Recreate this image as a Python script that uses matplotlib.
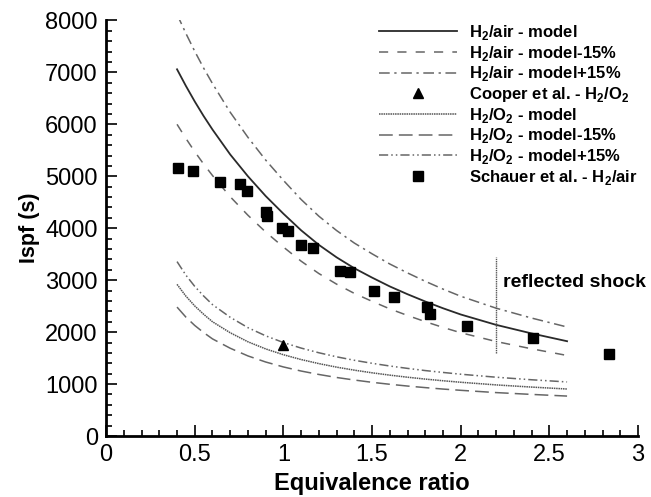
import numpy as np
import matplotlib
matplotlib.use('Agg')
import matplotlib.pyplot as plt
from matplotlib.ticker import MultipleLocator
from matplotlib.lines import Line2D

plt.rcParams['font.family'] = ['Liberation Sans', 'DejaVu Sans']
plt.rcParams['mathtext.fontset'] = 'custom'
plt.rcParams['mathtext.rm'] = 'Liberation Sans'
plt.rcParams['mathtext.bf'] = 'Liberation Sans:bold'

# model curves (equivalence ratio grid)
phi_model = [0.4, 0.45, 0.5, 0.55, 0.6, 0.7, 0.8, 0.9, 1.0, 1.1, 1.2, 1.3,
             1.4, 1.5, 1.6, 1.7, 1.8, 1.9, 2.0, 2.2, 2.4, 2.6]

h2air_model = [7060, 6740, 6440, 6160, 5900, 5420, 5000, 4620, 4280, 3960, 3680,
               3440, 3230, 3050, 2880, 2730, 2590, 2460, 2340, 2140, 1975, 1825]
h2air_minus = [6001, 5729, 5474, 5236, 5015, 4607, 4250, 3927, 3638, 3366, 3128,
               2924, 2746, 2593, 2448, 2321, 2202, 2091, 1989, 1819, 1679, 1551]
h2air_plus = [8119, 7751, 7406, 7084, 6785, 6233, 5750, 5313, 4922, 4554, 4232,
              3956, 3715, 3508, 3312, 3140, 2979, 2829, 2691, 2461, 2271, 2099]

h2o2_model = [2920, 2693, 2504, 2344, 2200, 1988, 1814, 1677, 1565, 1472, 1394,
              1326, 1268, 1217, 1172, 1132, 1096, 1064, 1035, 984, 942, 905]
h2o2_minus = [2482, 2289, 2128, 1992, 1870, 1690, 1542, 1425, 1330, 1251, 1185,
              1127, 1078, 1034, 996, 962, 932, 904, 880, 836, 801, 769]
h2o2_plus = [3358, 3097, 2880, 2696, 2530, 2286, 2086, 1929, 1800, 1693, 1603,
             1525, 1458, 1400, 1348, 1302, 1260, 1224, 1190, 1132, 1083, 1041]

# experiments
cooper_phi = [1.0]
cooper_isp = [1750]

schauer_phi = [0.408, 0.49, 0.641, 0.757, 0.795, 0.904, 0.908, 0.994, 1.025, 1.10,
               1.167, 1.318, 1.376, 1.513, 1.624, 1.812, 1.827, 2.034, 2.407, 2.839]
schauer_isp = [5160, 5093, 4881, 4855, 4720, 4310, 4245, 4014, 3956, 3685,
               3628, 3179, 3160, 2794, 2672, 2480, 2345, 2125, 1882, 1574]

shock_phi = 2.2
shock_range = [1600, 3450]

fig = plt.figure(figsize=(6.51, 4.97), dpi=100)
ax = fig.add_axes([0.163, 0.1227, 0.817, 0.8361])

c_dark = '#2a2a2a'
c_gray = '#666666'

ax.plot(phi_model, h2air_model, color=c_dark, lw=1.3, ls='-')
ax.plot(phi_model, h2air_minus, color=c_gray, lw=1.1, ls=(0, (6, 6)))
ax.plot(phi_model, h2air_plus, color=c_gray, lw=1.1, ls=(0, (7, 3, 1.5, 3)))
ax.plot(phi_model, h2o2_model, color='#555555', lw=1.1, ls=(0, (1, 0.5)))
ax.plot(phi_model, h2o2_minus, color=c_gray, lw=1.1, ls=(0, (9, 4)))
ax.plot(phi_model, h2o2_plus, color=c_gray, lw=1.1, ls=(0, (6, 2, 1, 2, 1, 2)))
ax.plot(cooper_phi, cooper_isp, ls='none', marker='^', color='black', ms=7.5)
ax.plot(schauer_phi, schauer_isp, ls='none', marker='s', color='black', ms=7)

ax.plot([shock_phi, shock_phi], shock_range, color='#555555', lw=1.0, ls=(0, (1, 0.6)))
ax.text(2.24, 2950, 'reflected shock', fontsize=14, fontweight='bold',
        va='center', ha='left', clip_on=False)

ax.set_xlim(0, 3)
ax.set_ylim(0, 8000)
ax.xaxis.set_major_locator(MultipleLocator(0.5))
ax.xaxis.set_minor_locator(MultipleLocator(0.1))
ax.yaxis.set_major_locator(MultipleLocator(1000))
ax.yaxis.set_minor_locator(MultipleLocator(200))
ax.set_xticks([0, 0.5, 1, 1.5, 2, 2.5, 3])
ax.set_xticklabels(['0', '0.5', '1', '1.5', '2', '2.5', '3'])

for s in ['top', 'right']:
    ax.spines[s].set_visible(False)
for s in ['left', 'bottom']:
    ax.spines[s].set_linewidth(2)
ax.tick_params(which='both', direction='in', top=False, right=False, width=1.2)
ax.tick_params(which='major', length=8, labelsize=17, pad=6)
ax.tick_params(which='minor', length=4.5)

ax.set_xlabel('Equivalence ratio', fontsize=17, fontweight='bold', labelpad=4)
ax.set_ylabel('Ispf (s)', fontsize=15.5, fontweight='bold', labelpad=4)

handles = [
    Line2D([], [], color=c_dark, lw=1.3, ls='-'),
    Line2D([], [], color=c_gray, lw=1.1, ls=(0, (6, 6))),
    Line2D([], [], color=c_gray, lw=1.1, ls=(0, (7, 3, 1.5, 3))),
    Line2D([], [], color='black', ls='none', marker='^', ms=7.5),
    Line2D([], [], color='#555555', lw=1.1, ls=(0, (1, 0.5))),
    Line2D([], [], color=c_gray, lw=1.1, ls=(0, (9, 4))),
    Line2D([], [], color=c_gray, lw=1.1, ls=(0, (6, 2, 1, 2, 1, 2))),
    Line2D([], [], color='black', ls='none', marker='s', ms=7),
]
labels = [
    r'H$_\mathbf{2}$/air - model',
    r'H$_\mathbf{2}$/air - model-15%',
    r'H$_\mathbf{2}$/air - model+15%',
    r'Cooper et al. - H$_\mathbf{2}$/O$_\mathbf{2}$',
    r'H$_\mathbf{2}$/O$_\mathbf{2}$ - model',
    r'H$_\mathbf{2}$/O$_\mathbf{2}$ - model-15%',
    r'H$_\mathbf{2}$/O$_\mathbf{2}$ - model+15%',
    r'Schauer et al. - H$_\mathbf{2}$/air',
]
leg = fig.legend(handles, labels, loc='upper left',
                 bbox_to_anchor=(379 / 651, 1 - 23 / 497),
                 frameon=False, borderpad=0, borderaxespad=0,
                 handlelength=4.7, handletextpad=0.7, labelspacing=0.1,
                 prop={'size': 12, 'weight': 'bold'})

fig.savefig('out.png', dpi=100)
